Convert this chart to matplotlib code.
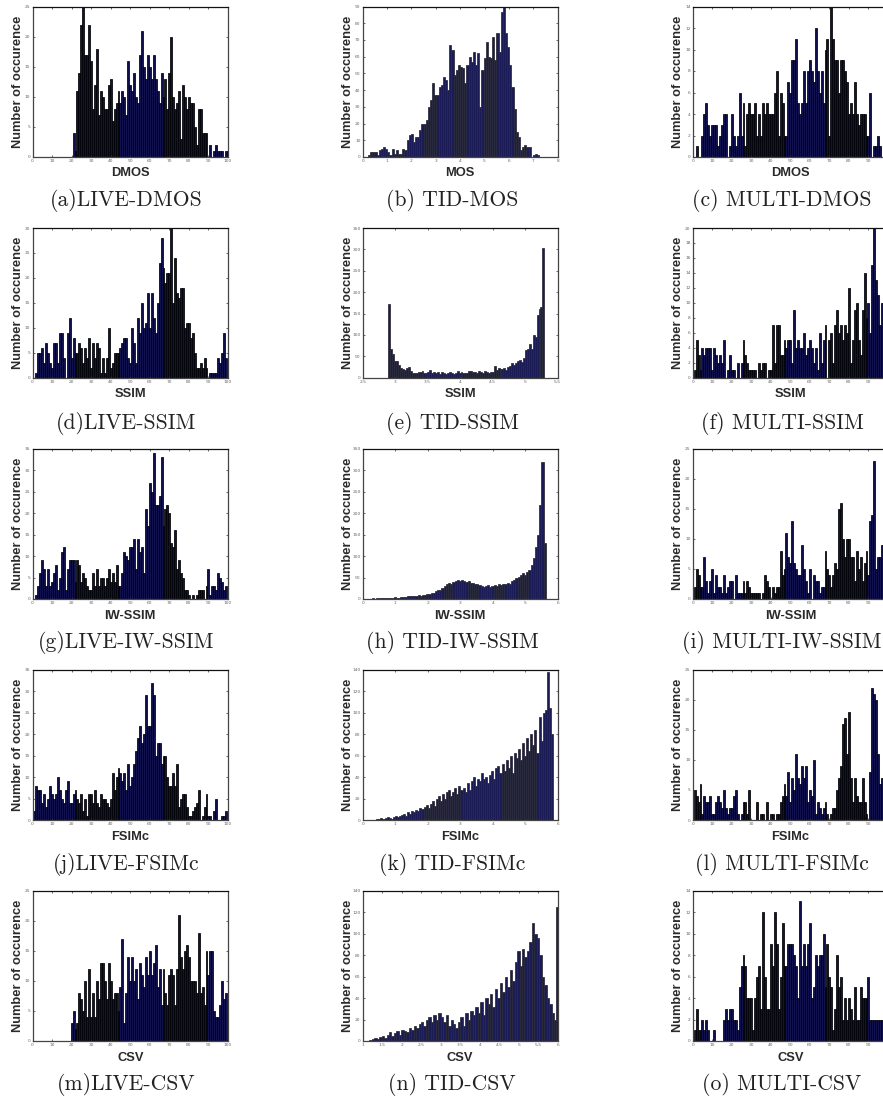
import numpy as np
import matplotlib
matplotlib.use("Agg")
import matplotlib.pyplot as plt

W, H = 883, 1102

live_dmos = [0]*20 + [4,1,11,14,22,26,17,17,22,16,8,12,18,7,11,10,8,8,12,13,6,8,9,11,9,11,10,7,16,12,11,14,10,9,17,21,15,13,17,15,13,17,13,11,9,14,10,13,8,14,20,10,8,9,11,3,12,10,8,10,9,9,5,2,8,8,4,4,4,0,2,0,1,2,1,1,1,0,1,1]
tid_mos = [1,3,3,3,1,4,5,6,5,3,1,5,2,4,2,2,5,4,10,13,14,9,12,12,16,20,20,22,30,34,44,37,37,42,43,48,46,40,67,64,49,52,55,54,53,44,55,60,57,63,55,62,30,52,59,69,60,59,72,58,74,63,87,90,74,66,55,42,29,15,12,4,6,7,6,6,0,1,2,1]
multi_dmos = [0,1,0,0,2,4,5,3,2,3,3,3,1,2,3,4,4,0,1,4,2,1,2,6,2,5,1,4,5,4,4,5,2,4,2,5,4,5,4,4,4,6,8,2,6,5,2,2,7,6,9,9,11,5,4,5,8,5,8,9,8,7,12,8,6,8,5,10,11,2,14,11,9,9,6,9,9,8,7,4,5,4,7,4,3,4,4,4,2,2,6,0,1,1,2,1,0,0,0,0]

live_ssim = [0,1,5,5,6,3,7,5,3,2,7,7,3,9,9,4,0,9,12,4,8,5,5,7,6,3,6,4,8,2,7,4,7,6,1,4,1,4,10,2,3,5,5,5,6,7,8,8,4,3,10,7,3,12,9,15,10,11,17,10,17,12,9,15,23,28,22,19,21,21,30,15,24,17,16,18,18,10,11,11,8,9,5,2,2,3,2,4,2,0,1,1,1,1,4,3,5,9,4,0]
tid_ssim = [172,67,55,38,40,30,22,20,18,22,25,15,11,10,10,14,14,15,11,10,13,17,11,13,12,13,8,13,11,9,11,13,12,8,12,15,12,13,10,12,11,15,16,14,13,12,16,14,12,16,14,12,13,14,28,18,22,20,21,22,18,24,28,35,30,35,38,42,36,47,64,68,78,67,100,95,147,160,165,303]
multi_ssim = [1,5,3,1,4,3,4,4,4,1,4,3,2,3,2,5,0,1,3,1,1,0,2,0,2,5,3,2,1,1,1,1,0,2,1,2,2,0,1,1,7,2,7,7,3,3,5,4,5,5,2,9,4,5,4,4,6,3,4,5,4,2,4,1,6,2,5,7,0,5,6,2,7,9,6,7,5,7,6,12,2,5,9,10,5,3,9,14,8,10,6,15,20,13,11,7,10,5,3,2]

live_iw = [0,1,3,6,9,7,3,7,3,4,6,8,2,5,11,12,2,7,9,9,9,4,9,8,4,6,5,3,2,2,6,3,7,3,5,5,3,5,7,4,6,4,8,3,3,6,11,10,9,12,12,14,7,14,11,12,6,21,17,27,25,34,22,22,24,33,17,21,22,20,13,12,16,7,9,6,5,2,2,1,0,1,0,1,2,2,2,0,3,7,1,3,3,2,6,5,4,2,3,0]
tid_iw = [1,1,1,1,2,1,2,2,2,2,3,2,3,3,4,3,3,5,4,5,6,6,7,6,8,9,8,10,9,11,12,14,15,18,20,22,26,30,35,38,36,40,42,44,42,45,43,40,42,38,38,36,35,32,30,28,30,32,28,30,32,30,34,32,36,34,38,36,42,45,48,52,56,60,55,62,68,80,95,120,150,220,320,130]
multi_iw = [2,5,4,2,2,7,3,1,3,5,1,4,2,2,1,4,1,2,3,3,0,4,1,1,1,3,1,3,2,1,1,1,1,1,0,1,4,3,2,0,2,1,2,2,8,4,5,11,7,6,13,6,5,4,4,9,5,3,1,5,0,4,3,3,1,2,2,8,5,4,2,4,6,5,15,16,10,7,10,10,7,7,3,8,5,7,3,6,8,4,13,14,23,5,7,7,9,4,4,3]

live_fsim = [2,8,7,7,4,6,3,5,8,6,5,6,10,7,5,4,7,9,4,4,6,7,5,4,6,2,5,1,6,6,4,7,4,3,6,5,5,4,3,5,11,7,10,12,11,9,11,7,13,8,10,13,16,19,22,18,20,29,22,22,32,29,15,18,18,13,15,15,10,8,8,11,8,13,3,5,6,6,3,1,1,2,3,4,7,0,1,3,6,1,1,0,2,5,0,0,1,1,2,0]
tid_fsim = [1,1,2,1,2,3,2,1,3,4,3,4,5,6,4,7,6,8,7,9,8,11,10,12,14,11,15,18,13,20,22,18,24,20,26,28,22,26,30,24,32,28,30,26,34,28,36,40,32,38,36,44,38,40,34,42,46,38,48,50,44,52,46,56,48,60,44,62,58,66,56,72,60,76,64,80,70,84,62,96,74,100,102,138,104,80]
multi_fsim = [5,4,3,6,1,4,3,3,4,1,1,3,4,3,2,5,2,1,2,2,4,5,1,0,1,3,3,1,5,0,0,0,3,0,1,1,0,3,0,1,1,0,1,1,3,4,6,4,8,3,7,5,11,7,6,9,7,9,3,5,4,10,1,3,2,1,2,3,1,0,1,2,2,5,7,9,16,17,11,18,7,3,7,4,3,3,7,3,1,0,8,22,21,20,11,6,7,3,2,1]

live_csv = [0]*19 + [3,5,2,3,8,7,5,10,4,12,4,8,4,10,7,13,13,10,7,13,10,7,8,8,5,9,17,3,8,14,10,14,10,12,7,13,11,9,14,11,15,11,13,16,9,12,6,12,8,6,11,12,11,6,12,21,14,12,15,16,14,10,10,10,8,18,8,9,6,15,11,15,15,5,4,4,6,10,7,8,0]
tid_csv = [1,2,3,2,4,5,3,6,8,5,7,9,6,10,9,8,12,10,14,12,16,18,14,20,22,18,24,20,26,22,18,24,14,20,16,12,18,22,14,26,20,28,24,32,26,36,24,40,34,44,32,48,40,54,46,60,50,66,56,74,84,70,86,78,84,92,110,100,96,80,60,52,40,34,26,20,125]
multi_csv = [1,3,1,1,2,1,2,1,0,0,1,0,0,0,0,2,3,2,3,3,2,2,1,5,7,8,7,4,4,4,1,4,6,7,3,12,6,3,3,9,7,12,9,3,6,11,7,7,9,9,9,8,7,4,13,7,9,7,9,11,4,5,8,7,8,8,10,5,9,6,5,1,3,8,5,6,2,4,2,4,3,2,5,2,2,5,4,4,4,6,2,2,2,2,2,2,2,2,2,2]

xlabels = ["DMOS","MOS","DMOS","SSIM","SSIM","SSIM","IW-SSIM","IW-SSIM","IW-SSIM","FSIMc","FSIMc","FSIMc","CSV","CSV","CSV"]
captions = ["(a)LIVE-DMOS","(b) TID-MOS","(c) MULTI-DMOS","(d)LIVE-SSIM","(e) TID-SSIM","(f) MULTI-SSIM",
            "(g)LIVE-IW-SSIM","(h) TID-IW-SSIM","(i) MULTI-IW-SSIM","(j)LIVE-FSIMc","(k) TID-FSIMc","(l) MULTI-FSIMc",
            "(m)LIVE-CSV","(n) TID-CSV","(o) MULTI-CSV"]
series = [live_dmos,tid_mos,multi_dmos,live_ssim,tid_ssim,multi_ssim,live_iw,tid_iw,multi_iw,live_fsim,tid_fsim,multi_fsim,live_csv,tid_csv,multi_csv]
ymaxes = [25,90,14,30,350,20,35,350,25,35,140,25,25,140,14]
ysteps = [5,10,2,5,50,2,5,50,5,5,20,5,5,20,2]
bin_ranges = {1:(0.26,7.2),4:(2.91,5.28),7:(0.05,5.6),10:(0.45,5.82),13:(1.2,6.0)}
xlims = {1:(0,8),4:(2.5,5.5),7:(0,6),10:(0,6),13:(1,6)}
xticks = {1:list(range(0,9)),4:[2.5,3,3.5,4,4.5,5,5.5],7:list(range(0,7)),10:list(range(0,7)),13:[1,1.5,2,2.5,3,3.5,4,4.5,5,5.5,6]}
xticklabels = {4:["2.5","3","3.5","4","4.5","5","5.5"],13:["1","1.5","2","2.5","3","3.5","4","4.5","5","5.5","6"]}

col_px = [(32.5,228.0),(362.7,557.7),(692.7,888.0)]
row_px = [(6.5,157.0),(228.0,377.7),(448.7,599.0),(669.7,820.0),(890.7,1041.0)]
cap_y = [201,423,643,865,1085]
xl_y = [173,394,616,837,1058]
yl_cx = [18,348,678]
cap_cx = [126,452,782]

fig = plt.figure(figsize=(W/100,H/100),dpi=100)
sans = ["Liberation Sans","DejaVu Sans"]
for k,vals in enumerate(series):
    r,c = k//3,k%3
    x0,x1 = col_px[c]; y0,y1 = row_px[r]
    ax = fig.add_axes([x0/W,1-y1/H,(x1-x0)/W,(y1-y0)/H])
    vals = np.array(vals,float)
    lo,hi = bin_ranges.get(k,(1,100))
    centers = np.linspace(lo,hi,len(vals))
    width = centers[1]-centers[0]
    is_tid = c == 1
    ax.bar(centers,vals,width=width,color="#1b1b55" if is_tid else "#10104c",
           edgecolor="#2a2a38" if is_tid else "black",linewidth=0.55)
    ax.set_xlim(*xlims.get(k,(0,100)))
    ax.set_ylim(0,ymaxes[k])
    default_ticks = list(range(0,91,10)) if c == 2 else list(range(0,101,10))
    ax.set_xticks(xticks.get(k,default_ticks))
    if k in xticklabels:
        ax.set_xticklabels(xticklabels[k])
    ax.set_yticks(np.arange(0,ymaxes[k]+1,ysteps[k]))
    ax.tick_params(direction="in",top=True,right=True,length=1.6,width=0.5,labelsize=3.2,
                   colors="#303030",labelcolor="#666666",pad=1.5)
    for s in ax.spines.values():
        s.set_linewidth(0.9); s.set_color("#444444")
    ax.spines["top"].set_color("#111111")
    fig.text(yl_cx[c]/W,1-(y0+y1)/2/H,"Number of occurence",rotation=90,ha="center",va="center",
             family=sans,fontweight="bold",fontsize=9.3,color="#2a2a2a")
    fig.text((x0+x1)/2/W,1-xl_y[r]/H,xlabels[k],ha="center",va="center",
             family=sans,fontweight="bold",fontsize=9.3,color="#2a2a2a")
    fig.text(cap_cx[c]/W if c != 0 else cap_cx[0]/W,1-cap_y[r]/H,captions[k],ha="center",va="center",
             family=["cmr10","DejaVu Serif"],fontsize=15.6,color="#222222")
fig.savefig("out.png",dpi=100)
